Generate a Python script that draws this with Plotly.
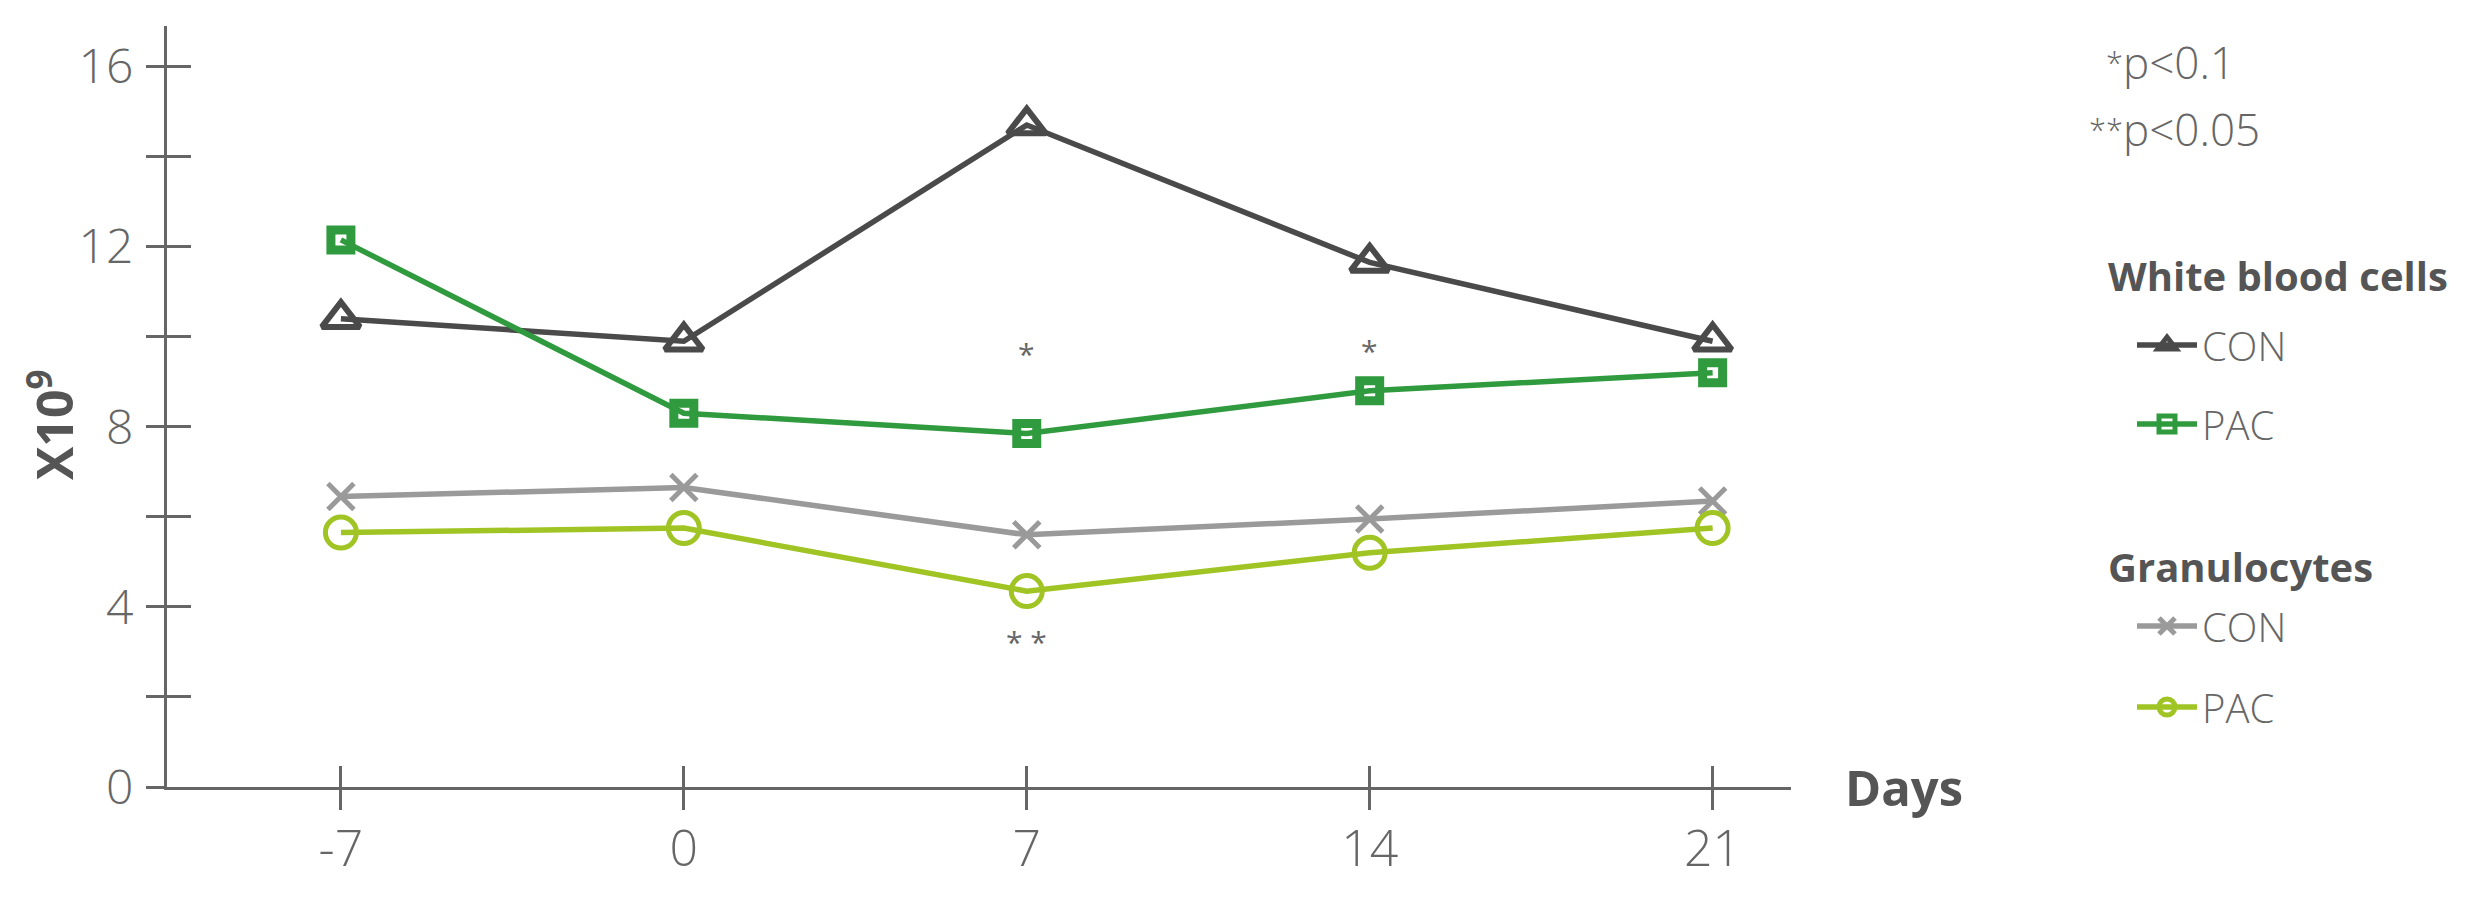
import plotly.graph_objects as go

# ---------------- data ----------------
days = [-7, 0, 7, 14, 21]
wbc_con = [10.4, 9.9, 14.7, 11.65, 9.9]
wbc_pac = [12.15, 8.3, 7.85, 8.8, 9.2]
gran_con = [6.45, 6.65, 5.6, 5.95, 6.35]
gran_pac = [5.65, 5.75, 4.35, 5.2, 5.75]

x_tickvals = [-7, 0, 7, 14, 21]
x_ticktext = ["-7", "0", "7", "14", "21"]
y_tickvals = [0, 2, 4, 6, 8, 10, 12, 14, 16]
y_ticktext = ["0", "", "4", "", "8", "", "12", "", "16"]

sig_x = [7, 14, 7]
sig_y = [9.7, 9.75, 3.3]
sig_text = ["*", "*", "* *"]

group_titles = ["White blood cells", "Granulocytes"]
series_names = ["CON", "PAC", "CON", "PAC"]
pvalue_stars = ["*", "**"]
pvalue_text = ["p<0.1", "p<0.05"]

# ---------------- style ----------------
FONT = "Open Sans"
LIGHT = 300
C_AXIS = "#666666"
C_TEXT = "#666666"
C_BOLD = "#555555"
colors = ["#4a4a4a", "#2f9a3e", "#9a9a9a", "#a0c423"]
symbols = ["triangle-up-open", "square-open", "x-thin-open", "circle-open"]
msizes = [33, 20, 26, 31]
mwidths = [6, 9, 5, 5]
series = [wbc_con, wbc_pac, gran_con, gran_pac]
legends = ["legend", "legend2", "legend3", "legend4"]

W, H = 2479, 903
OFF = 8  # default body margin of the html page
PL, PR, PT, PB = 167, 1791, 26, 787
PW, PH = PR - PL, PB - PT
XR = [-10.55, 22.6]
YR = [0, 16.9]


def px(xp):
    return (xp - PL) / PW


def py(yp):
    return (PB - yp) / PH


fig = go.Figure()
for vals, name, col, sym, ms, mw, lg in zip(series, series_names, colors, symbols, msizes, mwidths, legends):
    fig.add_trace(go.Scatter(
        x=days, y=vals, mode="lines+markers", name=name,
        line=dict(color=col, width=5.5),
        marker=dict(symbol=sym, size=ms, color=col, line=dict(width=mw, color=col)),
        legend=lg, showlegend=True,
    ))

# helper (empty) trace so the overlaid tick axes are drawn
fig.add_trace(go.Scatter(x=days, y=[None] * len(days), xaxis="x2", yaxis="y2",
                         mode="lines", showlegend=False, hoverinfo="skip"))

legend_y = [345, 424, 626, 707]
legend_common = dict(font=dict(family=FONT, size=40, color=C_TEXT, weight=LIGHT),
                     bgcolor="rgba(0,0,0,0)",
                     xanchor="left", yanchor="middle", itemwidth=60, tracegroupgap=0)
layout_legends = {}
for lg, yy in zip(legends, legend_y):
    layout_legends[lg] = dict(x=px(2132), y=py(yy), **legend_common)

fig.update_layout(
    width=W - OFF, height=H - OFF,
    margin=dict(l=PL - OFF, r=W - PR, t=PT - OFF, b=H - PB, pad=0),
    paper_bgcolor="white", plot_bgcolor="white",
    font=dict(family=FONT, color=C_TEXT),
    xaxis=dict(range=XR, showgrid=False, zeroline=False,
               showline=True, linecolor=C_AXIS, linewidth=3,
               tickvals=x_tickvals, ticktext=x_ticktext,
               ticks="outside", ticklen=20, tickwidth=3, tickcolor=C_AXIS,
               tickfont=dict(family=FONT, size=50, color=C_TEXT, weight=LIGHT),
               ticklabelstandoff=-4),
    yaxis=dict(range=YR, showgrid=False, zeroline=False,
               showline=True, linecolor=C_AXIS, linewidth=3,
               tickvals=y_tickvals, ticktext=y_ticktext,
               ticks="outside", ticklen=18, tickwidth=3, tickcolor=C_AXIS,
               tickfont=dict(family=FONT, size=48, color=C_TEXT, weight=LIGHT),
               ticklabelstandoff=3),
    xaxis2=dict(range=XR, overlaying="x", anchor="y2", side="bottom",
                showgrid=False, zeroline=False, showline=False,
                tickvals=x_tickvals, showticklabels=False,
                ticks="inside", ticklen=21, tickwidth=3, tickcolor=C_AXIS),
    yaxis2=dict(range=YR, overlaying="y", anchor="x2", side="left",
                showgrid=False, zeroline=False, showline=False,
                tickvals=y_tickvals, showticklabels=False,
                ticks="inside", ticklen=24, tickwidth=3, tickcolor=C_AXIS),
    showlegend=True,
    **layout_legends,
)

# significance stars
for sx, sy, st in zip(sig_x, sig_y, sig_text):
    fig.add_annotation(x=sx, y=sy, xref="x", yref="y", text=st, showarrow=False,
                       font=dict(family=FONT, size=30, color=C_TEXT),
                       xanchor="center", yanchor="middle", yshift=-3)

# axis titles
fig.add_annotation(x=px(1843), y=0, xref="paper", yref="y", text="<b>Days</b>",
                   showarrow=False, xanchor="left", yanchor="middle",
                   font=dict(family=FONT, size=49, color=C_BOLD))
fig.add_annotation(x=px(52), y=py(425), xref="paper", yref="paper",
                   text="<b>X10<sup>9</sup></b>", textangle=-90, showarrow=False,
                   xanchor="center", yanchor="middle",
                   font=dict(family=FONT, size=50, color=C_BOLD))

# p-value notes
for stars, txt, yy in zip(pvalue_stars, pvalue_text, [62, 129]):
    fig.add_annotation(x=px(2125), y=py(yy), xref="paper", yref="paper",
                       text="<sup>" + stars + "</sup>", showarrow=False,
                       xanchor="right", yanchor="middle",
                       font=dict(family=FONT, size=44, color=C_TEXT, weight=LIGHT))
    fig.add_annotation(x=px(2121), y=py(yy), xref="paper", yref="paper",
                       text=txt, showarrow=False, xanchor="left", yanchor="middle",
                       font=dict(family=FONT, size=44, color=C_TEXT, weight=LIGHT))

# legend group titles
for title, yy in zip(group_titles, [275, 566]):
    fig.add_annotation(x=px(2106), y=py(yy), xref="paper", yref="paper",
                       text="<b>" + title + "</b>", showarrow=False,
                       xanchor="left", yanchor="middle",
                       font=dict(family=FONT, size=40, color=C_BOLD))

fig.write_html("out.html")
